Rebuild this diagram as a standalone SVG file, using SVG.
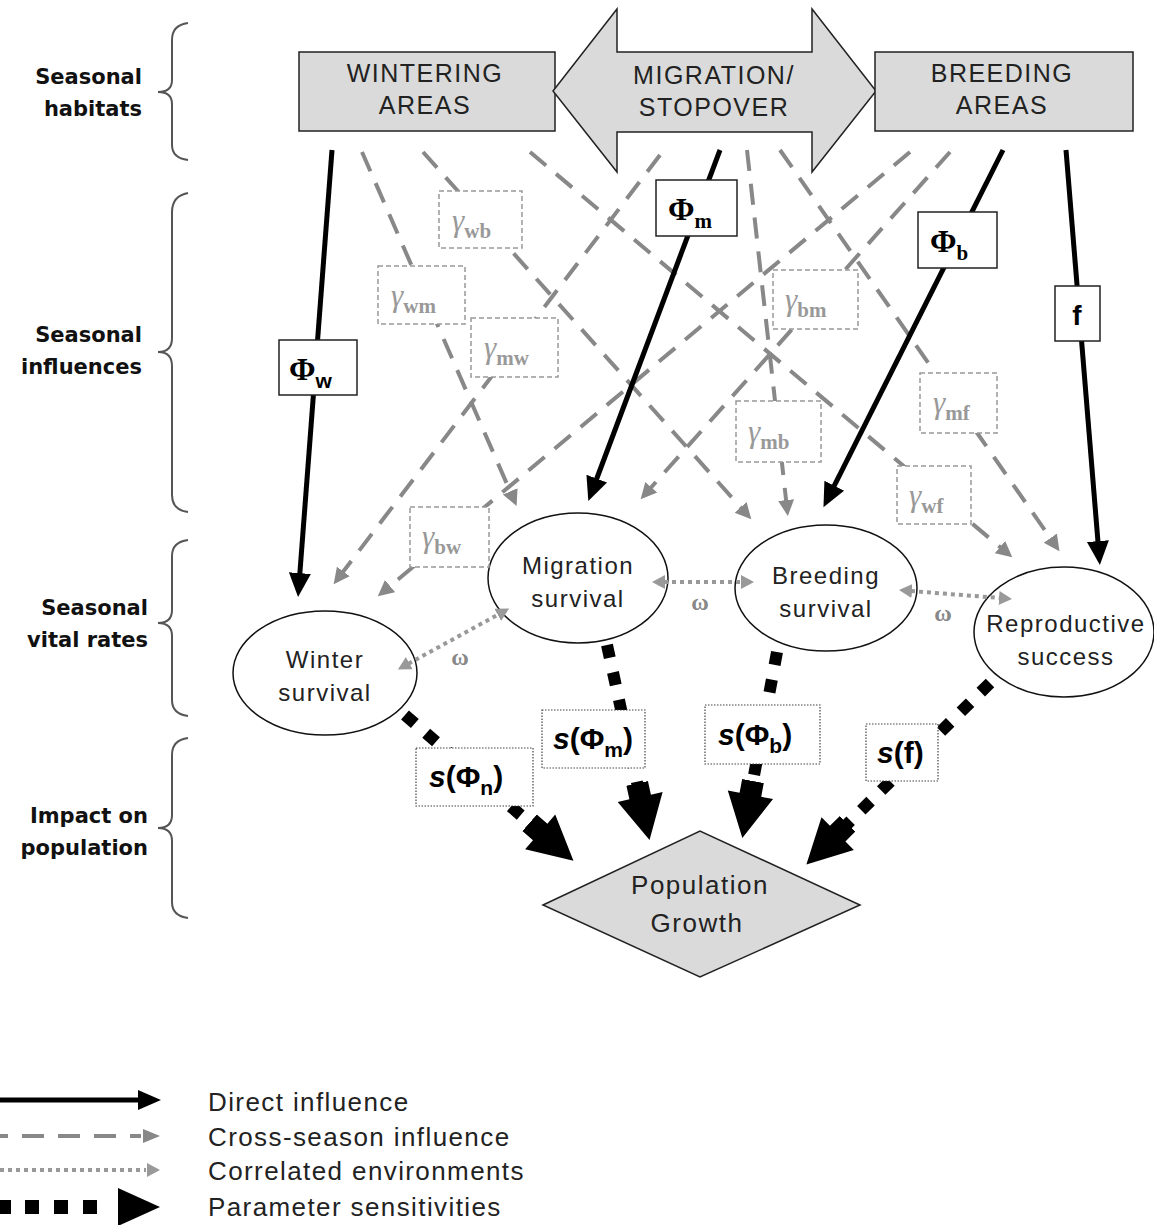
<svg xmlns="http://www.w3.org/2000/svg" width="1154" height="1225" viewBox="0 0 1154 1225">
<style>
.lbl{font-family:"DejaVu Sans",sans-serif;font-weight:bold;font-size:21px;fill:#111;text-anchor:end}
.box{fill:#dadada;stroke:#222;stroke-width:1.5}
.boxt{font-family:"Liberation Sans",Arial,sans-serif;font-size:25px;letter-spacing:1.5px;fill:#222;text-anchor:middle}
.ell{fill:#fff;stroke:#111;stroke-width:1.5}
.et{font-family:"Liberation Sans",Arial,sans-serif;font-size:24px;letter-spacing:1.5px;fill:#222;text-anchor:middle}
.brace{fill:none;stroke:#555;stroke-width:2}
.direct{stroke:#000;stroke-width:5;fill:none}
.cross{stroke:#888;stroke-width:4;stroke-dasharray:21 13;fill:none}
.corr{stroke:#999;stroke-width:4;stroke-dasharray:4 4;fill:none}
.sens{stroke:#000;stroke-width:12;stroke-dasharray:13 15;fill:none}
.gbox{fill:#fff;stroke:#999;stroke-width:1.5;stroke-dasharray:5 3}
.gt{font-family:"Liberation Serif",serif;font-style:italic;font-size:31px;fill:#999}
.gs{font-family:"Liberation Serif",serif;font-style:normal;font-weight:bold;font-size:21px;fill:#999}
.pbox{fill:#fff;stroke:#222;stroke-width:1.5}
.pt{font-family:"Liberation Serif",serif;font-weight:bold;font-size:32px;fill:#000}
.ps{font-size:21px}
.sbox{fill:#fff;stroke:#444;stroke-width:1.2;stroke-dasharray:1.5 1.5}
.st{font-family:"Liberation Sans",Arial,sans-serif;font-weight:bold;font-size:30px;fill:#000}
.om{font-family:"Liberation Serif",serif;font-weight:bold;font-size:24px;fill:#888;text-anchor:middle}
.leg{font-family:"Liberation Sans",Arial,sans-serif;font-size:26px;letter-spacing:1.4px;fill:#222}
</style>
<defs>
<marker id="ahB" markerUnits="userSpaceOnUse" markerWidth="26" markerHeight="24" viewBox="0 -12 26 24" refX="1" refY="0" orient="auto"><path d="M0,-11 L24,0 L0,11 Z" fill="#000"/></marker>
<marker id="ahG" markerUnits="userSpaceOnUse" markerWidth="18" markerHeight="18" viewBox="0 -9 18 18" refX="1" refY="0" orient="auto"><path d="M0,-8 L16,0 L0,8 Z" fill="#888"/></marker>
<marker id="ahD" markerUnits="userSpaceOnUse" markerWidth="15" markerHeight="16" viewBox="0 -8 15 16" refX="1" refY="0" orient="auto-start-reverse"><path d="M0,-7 L13,0 L0,7 Z" fill="#999"/></marker>
<marker id="ahS" markerUnits="userSpaceOnUse" markerWidth="60" markerHeight="50" viewBox="0 -25 60 50" refX="2" refY="0" orient="auto"><path d="M0,-11 L14,-11 L14,-23 L58,0 L14,23 L14,11 L0,11 Z" fill="#000"/></marker>
</defs>

<g id="braces">
<path class="brace" d="M188,23 Q172,25 172,40 L172,80 Q172,92 158,92 Q172,92 172,104 L172,145 Q172,158 188,160"/>
<path class="brace" d="M188,193 Q172,196 172,212 L172,338 Q172,352 158,352 Q172,352 172,366 L172,495 Q172,510 188,512"/>
<path class="brace" d="M188,540 Q172,542 172,556 L172,610 Q172,623 158,623 Q172,623 172,636 L172,700 Q172,714 188,716"/>
<path class="brace" d="M188,738 Q172,740 172,755 L172,815 Q172,828 158,828 Q172,828 172,841 L172,902 Q172,916 188,918"/>
</g>
<g id="labels">
<text class="lbl" x="142" y="84">Seasonal</text>
<text class="lbl" x="142" y="116">habitats</text>
<text class="lbl" x="142" y="342">Seasonal</text>
<text class="lbl" x="142" y="374">influences</text>
<text class="lbl" x="148" y="615">Seasonal</text>
<text class="lbl" x="148" y="647">vital rates</text>
<text class="lbl" x="148" y="823">Impact on</text>
<text class="lbl" x="148" y="855">population</text>
</g>

<g id="wintering-areas">
<rect class="box" x="299" y="52" width="256" height="79"/>
<text class="boxt" x="425" y="82">WINTERING</text>
<text class="boxt" x="425" y="114">AREAS</text>
</g>
<g id="migration-stopover">
<polygon class="box" points="553,91 617,9 617,52 812,52 812,9 876,91 812,172 812,132 617,132 617,172"/>
<text class="boxt" x="714" y="84">MIGRATION/</text>
<text class="boxt" x="714" y="116">STOPOVER</text>
</g>
<g id="breeding-areas">
<rect class="box" x="875" y="52" width="258" height="79"/>
<text class="boxt" x="1002" y="82">BREEDING</text>
<text class="boxt" x="1002" y="114">AREAS</text>
</g>

<g id="winter-survival">
<ellipse class="ell" cx="325" cy="673" rx="92" ry="62"/>
<text class="et" x="325" y="668">Winter</text>
<text class="et" x="325" y="701">survival</text>
</g>
<g id="migration-survival">
<ellipse class="ell" cx="578" cy="578" rx="90" ry="65"/>
<text class="et" x="578" y="574">Migration</text>
<text class="et" x="578" y="607">survival</text>
</g>
<g id="breeding-survival">
<ellipse class="ell" cx="826" cy="588" rx="91" ry="63"/>
<text class="et" x="826" y="584">Breeding</text>
<text class="et" x="826" y="617">survival</text>
</g>
<g id="reproductive-success">
<ellipse class="ell" cx="1064" cy="632" rx="90" ry="65"/>
<text class="et" x="1066" y="632">Reproductive</text>
<text class="et" x="1066" y="665">success</text>
</g>
<g id="population-growth">
<polygon class="box" points="543,905 700,831 860,905 700,977"/>
<text class="et" x="700" y="894" style="font-size:26px">Population</text>
<text class="et" x="697" y="932" style="font-size:26px">Growth</text>
</g>

<g id="connectors">
<!-- cross-season (dashed) -->
<line class="cross" x1="362" y1="152" x2="510.6" y2="492.3" marker-end="url(#ahG)"/>
<line class="cross" x1="423" y1="152" x2="741.3" y2="508.1" marker-end="url(#ahG)"/>
<line class="cross" x1="530" y1="152" x2="1000.8" y2="547.7" marker-end="url(#ahG)"/>
<line class="cross" x1="660" y1="155" x2="342.7" y2="572.3" marker-end="url(#ahG)"/>
<line class="cross" x1="747" y1="150" x2="786.2" y2="501.1" marker-end="url(#ahG)"/>
<line class="cross" x1="780" y1="150" x2="1050.9" y2="538.9" marker-end="url(#ahG)"/>
<line class="cross" x1="910" y1="152" x2="389.3" y2="586.7" marker-end="url(#ahG)"/>
<line class="cross" x1="950" y1="152" x2="650.6" y2="488" marker-end="url(#ahG)"/>
<!-- direct influences -->
<line class="direct" x1="332" y1="150" x2="299.8" y2="574.1" marker-end="url(#ahB)"/>
<line class="direct" x1="720" y1="150" x2="596.4" y2="479.5" marker-end="url(#ahB)"/>
<line class="direct" x1="1003" y1="150" x2="833.8" y2="486.6" marker-end="url(#ahB)"/>
<line class="direct" x1="1066" y1="150" x2="1098" y2="542.1" marker-end="url(#ahB)"/>
<!-- correlated environments -->
<line class="corr" x1="664" y1="582" x2="742" y2="582" marker-start="url(#ahD)" marker-end="url(#ahD)"/>
<line class="corr" x1="911" y1="591" x2="1000" y2="598" marker-start="url(#ahD)" marker-end="url(#ahD)"/>
<line class="corr" x1="408.4" y1="663.7" x2="498.6" y2="614.3" marker-start="url(#ahD)" marker-end="url(#ahD)"/>
<!-- sensitivities -->
<line class="sens" x1="405" y1="715" x2="531.1" y2="824.1" marker-end="url(#ahS)"/>
<line class="sens" x1="607" y1="645" x2="637.6" y2="785.3" marker-end="url(#ahS)"/>
<line class="sens" x1="777" y1="652" x2="752.6" y2="783" marker-end="url(#ahS)"/>
<line class="sens" x1="990" y1="683" x2="846.2" y2="825.2" marker-end="url(#ahS)"/>
</g>

<g id="gamma-labels">
<g id="g-wb"><rect class="gbox" x="439" y="191" width="83" height="57"/><text class="gt" x="452" y="231">γ<tspan class="gs" dy="7">wb</tspan></text></g>
<g id="g-wm"><rect class="gbox" x="378" y="266" width="87" height="58"/><text class="gt" x="391" y="306">γ<tspan class="gs" dy="7">wm</tspan></text></g>
<g id="g-mw"><rect class="gbox" x="471" y="318" width="87" height="59"/><text class="gt" x="484" y="358">γ<tspan class="gs" dy="7">mw</tspan></text></g>
<g id="g-bm"><rect class="gbox" x="773" y="270" width="85" height="59"/><text class="gt" x="785" y="310">γ<tspan class="gs" dy="7">bm</tspan></text></g>
<g id="g-mb"><rect class="gbox" x="736" y="401" width="85" height="61"/><text class="gt" x="748" y="442">γ<tspan class="gs" dy="7">mb</tspan></text></g>
<g id="g-mf"><rect class="gbox" x="920" y="373" width="77" height="60"/><text class="gt" x="933" y="413">γ<tspan class="gs" dy="7">mf</tspan></text></g>
<g id="g-wf"><rect class="gbox" x="897" y="466" width="74" height="58"/><text class="gt" x="909" y="506">γ<tspan class="gs" dy="7">wf</tspan></text></g>
<g id="g-bw"><rect class="gbox" x="410" y="507" width="79" height="60"/><text class="gt" x="422" y="547">γ<tspan class="gs" dy="7">bw</tspan></text></g>
</g>

<g id="direct-labels">
<g id="phi-w"><rect class="pbox" x="279" y="340" width="78" height="55"/><text class="pt" x="289" y="380">Φ<tspan class="ps" dy="8" style="font-family:'Liberation Sans',sans-serif">w</tspan></text></g>
<g id="phi-m"><rect class="pbox" x="656" y="180" width="81" height="56"/><text class="pt" x="668" y="220">Φ<tspan class="ps" dy="8">m</tspan></text></g>
<g id="phi-b"><rect class="pbox" x="918" y="212" width="79" height="56"/><text class="pt" x="930" y="252">Φ<tspan class="ps" dy="8">b</tspan></text></g>
<g id="f"><rect class="pbox" x="1055" y="286" width="45" height="55"/><text class="st" x="1077" y="325" text-anchor="middle" style="font-size:28px">f</text></g>
</g>

<g id="omegas">
<text class="om" x="460" y="665">ω</text>
<text class="om" x="700" y="610">ω</text>
<text class="om" x="943" y="621">ω</text>
</g>

<g id="sensitivity-labels">
<g id="s-phi-n"><rect class="sbox" x="416" y="748" width="117" height="58"/><text class="st" x="429" y="787"><tspan font-style="italic">s</tspan>(Φ<tspan class="ps" dy="8">n</tspan><tspan dy="-8">)</tspan></text></g>
<g id="s-phi-m"><rect class="sbox" x="542" y="710" width="103" height="58"/><text class="st" x="553" y="749"><tspan font-style="italic">s</tspan>(Φ<tspan class="ps" dy="8">m</tspan><tspan dy="-8">)</tspan></text></g>
<g id="s-phi-b"><rect class="sbox" x="705" y="705" width="115" height="59"/><text class="st" x="718" y="745"><tspan font-style="italic">s</tspan>(Φ<tspan class="ps" dy="8">b</tspan><tspan dy="-8">)</tspan></text></g>
<g id="s-f"><rect class="sbox" x="866" y="724" width="72" height="57"/><text class="st" x="877" y="763"><tspan font-style="italic">s</tspan>(f)</text></g>
</g>

<g id="legend">
<line class="direct" x1="0" y1="1100" x2="139" y2="1100"/>
<polygon points="138,1090 161,1100 138,1110" fill="#000"/>
<line class="cross" x1="-14" y1="1136" x2="141" y2="1136" style="stroke-dasharray:22 14"/>
<polygon points="143,1129 160,1136 143,1143" fill="#888"/>
<line class="corr" x1="0" y1="1170" x2="146" y2="1170"/>
<polygon points="147,1163 160,1170 147,1177" fill="#999"/>
<g fill="#000">
<rect x="0" y="1200" width="11" height="14"/>
<rect x="25" y="1200" width="14" height="14"/>
<rect x="54" y="1200" width="14" height="14"/>
<rect x="83" y="1200" width="14" height="14"/>
<polygon points="118,1188 160,1207 118,1226"/>
</g>
<text class="leg" x="208" y="1111">Direct influence</text>
<text class="leg" x="208" y="1146">Cross-season influence</text>
<text class="leg" x="208" y="1180">Correlated environments</text>
<text class="leg" x="208" y="1216">Parameter sensitivities</text>
</g>
</svg>
